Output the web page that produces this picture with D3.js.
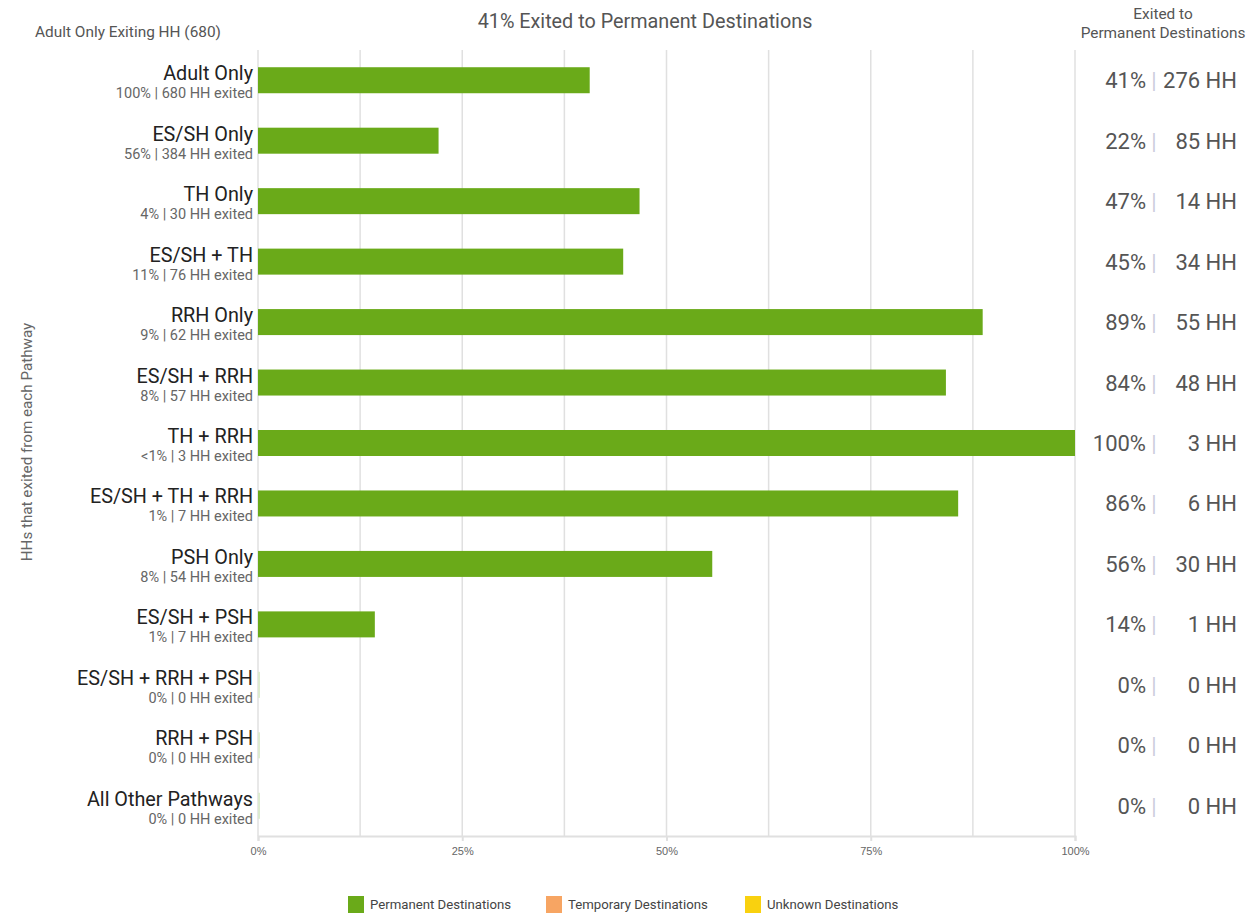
<!DOCTYPE html>
<html>
<head>
<meta charset="utf-8">
<script src="https://cdn.jsdelivr.net/npm/d3@7"></script>
<style>
  body { margin: 0; background: #fff; font-family: Roboto, "Noto Sans", sans-serif; }
  .grid line { stroke: #e0e0e0; stroke-width: 1.5; }
  .axis path, .axis line { stroke: #e0e0e0; stroke-width: 2; }
  .axis text { fill: #666; font-size: 11px; }
</style>
</head>
<body>
<div id="chart"></div>
<script>
// Pathways (rows, top to bottom)
const pathways = ['Adult Only', 'ES/SH Only', 'TH Only', 'ES/SH + TH', 'RRH Only', 'ES/SH + RRH',
  'TH + RRH', 'ES/SH + TH + RRH', 'PSH Only', 'ES/SH + PSH', 'ES/SH + RRH + PSH', 'RRH + PSH', 'All Other Pathways'];
// share of all adult-only exits, as printed
const shareLabels = ['100%', '56%', '4%', '11%', '9%', '8%', '<1%', '1%', '8%', '1%', '0%', '0%', '0%'];
const exitedHH = [680, 384, 30, 76, 62, 57, 3, 7, 54, 7, 0, 0, 0];
// permanent destinations
const permanentPct = [40.6, 22.1, 46.7, 44.7, 88.7, 84.2, 100, 85.7, 55.6, 14.3, 0, 0, 0];
const permanentHH = [276, 85, 14, 34, 55, 48, 3, 6, 30, 1, 0, 0, 0];
const xTicks = [0, 25, 50, 75, 100];
const legendItems = ['Permanent Destinations', 'Temporary Destinations', 'Unknown Destinations'];
const legendColors = ['#6aaa19', '#f7a563', '#f9d10f'];

const W = 1257, H = 916;
const margin = {top: 50, right: 182, bottom: 80, left: 258};
const width = W - margin.left - margin.right,
  height = H - margin.top - margin.bottom;

const root = d3.select('#chart').append('svg')
  .attr('width', W)
  .attr('height', H);

const svg = root.append('g')
  .attr('transform', `translate(${margin.left}, ${margin.top})`);

const xScale = d3.scaleLinear().domain([0, 100]).range([0, width]);
const yScale = d3.scaleBand().domain(pathways).range([0, height]).paddingInner(0.57).paddingOuter(0.285);
const rowScale = d3.scaleBand().domain(pathways).range([0, height]);

// gridlines every 12.5%
svg.append('g')
  .attr('class', 'grid')
  .selectAll('line')
  .data(d3.range(0, 100.1, 12.5))
  .enter().append('line')
  .attr('x1', d => xScale(d)).attr('x2', d => xScale(d))
  .attr('y1', 0).attr('y2', height);

// x axis
const xAxis = d3.axisBottom(xScale)
  .tickValues(xTicks)
  .tickFormat(d => d + '%')
  .tickSize(5)
  .tickPadding(6);
svg.append('g')
  .attr('class', 'axis')
  .attr('transform', `translate(0, ${height})`)
  .call(xAxis);

// bars
svg.selectAll('rect.bar')
  .data(pathways)
  .enter().append('rect')
  .attr('class', 'bar')
  .attr('x', 0)
  .attr('y', d => yScale(d))
  .attr('height', yScale.bandwidth())
  .attr('width', (d, i) => permanentPct[i] > 0 ? xScale(permanentPct[i]) : 2)
  .attr('fill', (d, i) => permanentPct[i] > 0 ? legendColors[0] : '#dcebcf');

// left labels
const left = svg.append('g').attr('text-anchor', 'end');
left.selectAll('text.cat')
  .data(pathways)
  .enter().append('text')
  .attr('x', -5)
  .attr('y', d => rowScale(d) + rowScale.bandwidth() / 2)
  .attr('font-size', 19.8)
  .attr('fill', '#222')
  .text(d => d);
left.selectAll('text.sub')
  .data(pathways)
  .enter().append('text')
  .attr('x', -5)
  .attr('y', d => rowScale(d) + rowScale.bandwidth() / 2 + 18)
  .attr('font-size', 14.5)
  .attr('fill', '#666')
  .text((d, i) => `${shareLabels[i]} | ${exitedHH[i]} HH exited`);

// right labels
const right = root.append('g');
pathways.forEach((p, i) => {
  const y = margin.top + rowScale(p) + rowScale.bandwidth() / 2 + 8;
  right.append('text').attr('x', 1146).attr('y', y).attr('text-anchor', 'end')
    .attr('font-size', 22).attr('fill', '#555').text(Math.round(permanentPct[i]) + '%');
  right.append('text').attr('x', 1154).attr('y', y).attr('text-anchor', 'middle')
    .attr('font-size', 22).attr('fill', '#ccd').text('|');
  right.append('text').attr('x', 1237).attr('y', y).attr('text-anchor', 'end')
    .attr('font-size', 22).attr('fill', '#555').text(permanentHH[i] + ' HH');
});

// titles
root.append('text').attr('x', 35).attr('y', 37).attr('font-size', 15.4).attr('fill', '#555')
  .text('Adult Only Exiting HH (680)');
root.append('text').attr('x', 645).attr('y', 28).attr('text-anchor', 'middle').attr('font-size', 19.8).attr('fill', '#555')
  .text('41% Exited to Permanent Destinations');
root.append('text').attr('x', 1163).attr('y', 19).attr('text-anchor', 'middle').attr('font-size', 15.4).attr('fill', '#555')
  .text('Exited to');
root.append('text').attr('x', 1163).attr('y', 38).attr('text-anchor', 'middle').attr('font-size', 15.4).attr('fill', '#555')
  .text('Permanent Destinations');
root.append('text')
  .attr('transform', 'translate(32, 442) rotate(-90)')
  .attr('text-anchor', 'middle').attr('font-size', 15.2).attr('fill', '#666')
  .text('HHs that exited from each Pathway');

// legend
const legendX = [348, 546, 745];
const legend = root.append('g').selectAll('g')
  .data(legendItems)
  .enter().append('g')
  .attr('transform', (d, i) => `translate(${legendX[i]}, 896)`);
legend.append('rect').attr('width', 16).attr('height', 17).attr('fill', (d, i) => legendColors[i]);
legend.append('text').attr('x', 22).attr('y', 13).attr('font-size', 13.2).attr('fill', '#444').text(d => d);
</script>
</body>
</html>
